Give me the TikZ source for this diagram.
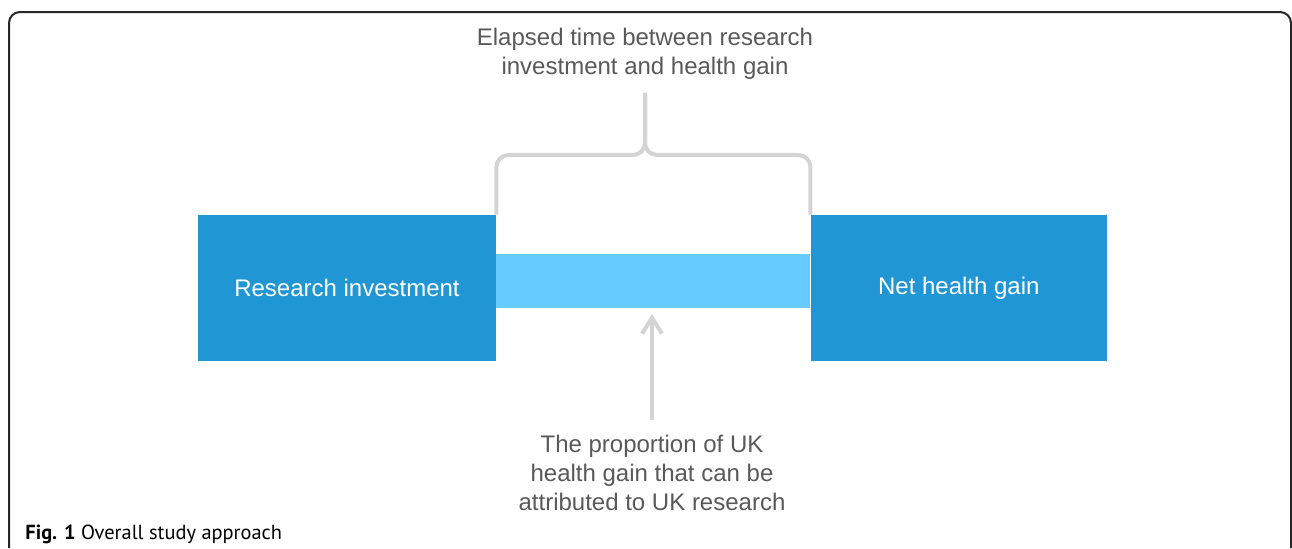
\documentclass[tikz,border=0pt]{standalone}
\usepackage{fontspec}
\setmainfont{Liberation Sans}
\newfontfamily\captionfont{PT Sans}
\usetikzlibrary{arrows.meta, positioning, calc}

\definecolor{stageblue}{RGB}{32,150,212}
\definecolor{gapblue}{RGB}{102,204,255}
\definecolor{linegray}{RGB}{212,212,212}
\definecolor{notegray}{RGB}{89,89,89}

\begin{document}
\begin{tikzpicture}[
  x=0.5pt, y=-0.5pt,
  stage/.style = {rectangle, fill=stageblue, text=white, inner sep=0pt, minimum width=149pt, minimum height=73pt, font=\fontsize{12}{14.4}\selectfont},
  gap/.style = {rectangle, fill=gapblue, inner sep=0pt, minimum width=157pt, minimum height=27pt},
  note/.style = {align=center, text=notegray, inner sep=0pt, font=\fontsize{12}{14.4}\selectfont},
  bracket/.style = {draw=linegray, line width=2pt, rounded corners=6pt},
  arrow/.style = {draw=linegray, line width=2pt, -{Straight Barb[length=8pt, width=10pt]}},
  frame/.style = {draw=black!85, line width=1pt, rounded corners=5.5pt},
  caption/.style = {inner sep=0pt, font=\captionfont\fontsize{10.2}{12}\selectfont}
]
\useasboundingbox (0,0) rectangle (1292,548);

%--------------------------------------------------
% outer frame (runs off the bottom)
%--------------------------------------------------
\draw[frame] (9,548) |- (1291,12) -- (1291,548);

%--------------------------------------------------
% stages (blocks)
%--------------------------------------------------
\node[stage] (invest) at (347,288) {Research investment};
\node[stage, minimum width=148pt, right=157pt of invest] (gain) {Net health gain};

% the bar in between
\node[gap, yshift=3.75pt] (lag) at ($(invest.east)!0.5!(gain.west)$) {};

%--------------------------------------------------
% notes
%--------------------------------------------------
\node[note] (elapsed) at (645,54)
  {Elapsed time between research\\investment and health gain};

\node[note] (share) at (652,473)
  {The proportion of UK\\health gain that can be\\attributed to UK research};

%--------------------------------------------------
% brace and arrow
%--------------------------------------------------
\coordinate (tip) at ($(elapsed.south)+(0,13)$);
\coordinate (knee) at ($(tip)+(0,62)$);

\draw[bracket] (invest.north east) |- (knee) -- (tip);
\draw[bracket] (gain.north west) |- (knee) -- (tip);

\draw[arrow, shorten <=7.5pt, shorten >=3pt] (share.north) -- (share.north |- lag.south);

% caption
\node[caption, anchor=base west] (figcap) at (25,539)
  {\textbf{Fig. 1} Overall study approach};

\end{tikzpicture}
\end{document}
